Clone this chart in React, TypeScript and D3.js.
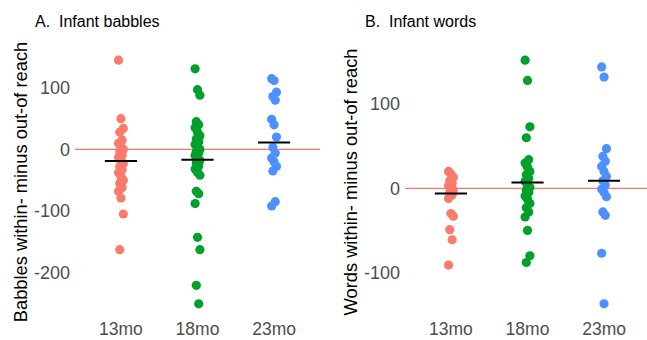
import React from "react";
import * as d3 from "d3";

const categories = ["13mo", "18mo", "23mo"];
const colors = ["#FA7A6C", "#00A12A", "#4C91FF"];

const babbles13 = [145, 50, 34, 28, 15, 10, 4, 0, -4, -9, -13, -18, -23, -28, -33, -38, -44, -50, -55, -62, -68, -79, -105, -163];
const babbles18 = [131, 97, 88, 45, 40, 35, 28, 22, 17, 12, 8, 4, 0, -3, -6, -10, -14, -18, -22, -27, -32, -37, -42, -68, -72, -88, -143, -163, -221, -251];
const babbles23 = [115, 112, 93, 86, 80, 49, 40, 20, 3, -6, -14, -20, -28, -35, -85, -92];
const babbleMeans = [-19, -17, 11];
const babbleTicks = [100, 0, -100, -200];

const words13 = [20, 17, 13, 9, 6, 3, 1, -2, -5, -8, -12, -30, -33, -49, -61, -91];
const words18 = [152, 128, 73, 60, 34, 30, 25, 20, 16, 12, 8, 4, 1, -2, -5, -9, -13, -18, -23, -28, -34, -50, -80, -88];
const words23 = [144, 132, 47, 38, 32, 26, 20, 14, 9, 4, -1, -5, -10, -28, -32, -77, -137];
const wordMeans = [-6, 7, 9];
const wordTicks = [100, 0, -100];

const FONT = "'Liberation Sans', Arial, sans-serif";

type PanelProps = {
  x0: number;
  title: string;
  yTitle: string;
  series: number[][];
  means: number[];
  ticks: number[];
};

function Panel({ x0, title, yTitle, series, means, ticks }: PanelProps) {
  const left = x0 + 75;
  const width = 245;
  const top = 48;
  const bottom = 316;
  const all = series.flat();
  const [mn, mx] = d3.extent(all) as [number, number];
  const pad = (mx - mn) * 0.05;
  const y = d3.scaleLinear().domain([mn - pad, mx + pad]).range([bottom, top]);
  const x = d3.scaleLinear().domain([0.4, 3.6]).range([left, left + width]);
  const jit = (i: number) => (((i * 7) % 5) - 2) * 1.2;
  return (
    <g>
      <text x={x0 + 35} y={26.5} fontSize={16} fill="#000" style={{ whiteSpace: "pre" }}>
        {title}
      </text>
      <text
        transform={`translate(${x0 + 27},${(top + bottom) / 2}) rotate(-90)`}
        textAnchor="middle"
        fontSize={18.3}
        fill="#000"
      >
        {yTitle}
      </text>
      {ticks.map((t) => (
        <text key={t} x={left - 5} y={y(t)} dy="0.36em" textAnchor="end" fontSize={18} fill="#4D4D4D">
          {t}
        </text>
      ))}
      {categories.map((c, i) => (
        <text key={c} x={x(i + 1)} y={335} textAnchor="middle" fontSize={17.5} fill="#4D4D4D">
          {c}
        </text>
      ))}
      <line x1={left} x2={left + width} y1={y(0)} y2={y(0)} stroke="#F8766D" strokeWidth={1.3} />
      {series.map((s, i) =>
        s.map((v, j) => (
          <circle key={`${i}-${j}`} cx={x(i + 1) + jit(j)} cy={y(v)} r={4.6} fill={colors[i]} />
        ))
      )}
      {means.map((m, i) => (
        <line
          key={i}
          x1={x(i + 1 - 0.21)}
          x2={x(i + 1 + 0.21)}
          y1={y(m)}
          y2={y(m)}
          stroke="#000"
          strokeWidth={2}
        />
      ))}
    </g>
  );
}

export default function App() {
  return (
    <svg
      width={647}
      height={340}
      style={{ position: "absolute", left: 0, top: 0, background: "#fff", fontFamily: FONT }}
    >
      <rect width={647} height={340} fill="#fff" />
      <Panel
        x0={0}
        title={"A.  Infant babbles"}
        yTitle="Babbles within- minus out-of reach"
        series={[babbles13, babbles18, babbles23]}
        means={babbleMeans}
        ticks={babbleTicks}
      />
      <Panel
        x0={330}
        title={"B.  Infant words"}
        yTitle="Words within- minus out-of reach"
        series={[words13, words18, words23]}
        means={wordMeans}
        ticks={wordTicks}
      />
    </svg>
  );
}
